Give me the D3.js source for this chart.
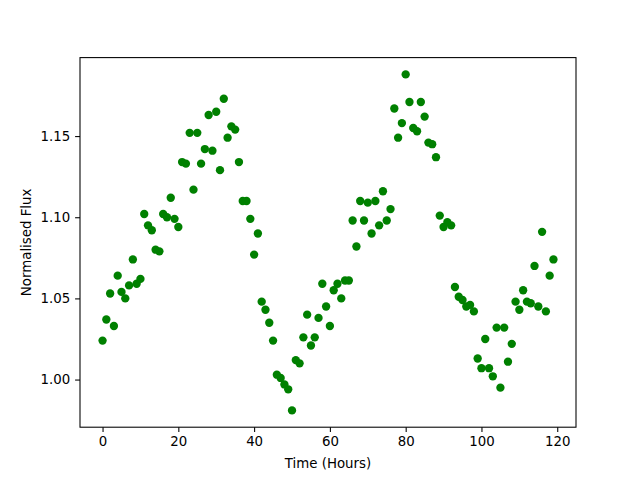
<!DOCTYPE html>
<html>
<head>
<meta charset="utf-8">
<script src="https://cdn.jsdelivr.net/npm/d3@7"></script>
<style>
body { margin: 0; background: #fff; }
svg { display: block; }
text { font-family: "DejaVu Sans", sans-serif; }
</style>
</head>
<body>
<svg id="chart" width="640" height="480"></svg>
<script>
const hours = d3.range(0, 120);
const flux = [
  1.024, 1.037, 1.053, 1.033, 1.064, 1.054, 1.050, 1.058, 1.074, 1.059,
  1.062, 1.102, 1.095, 1.092, 1.080, 1.079, 1.102, 1.100, 1.112, 1.099,
  1.094, 1.134, 1.133, 1.152, 1.117, 1.152, 1.133, 1.142, 1.163, 1.141,
  1.165, 1.129, 1.173, 1.149, 1.156, 1.154, 1.134, 1.110, 1.110, 1.099,
  1.077, 1.090, 1.048, 1.043, 1.035, 1.024, 1.003, 1.001, 0.997, 0.994,
  0.981, 1.012, 1.010, 1.026, 1.040, 1.021, 1.026, 1.038, 1.059, 1.045,
  1.033, 1.055, 1.059, 1.050, 1.061, 1.061, 1.098, 1.082, 1.110, 1.098,
  1.109, 1.090, 1.110, 1.095, 1.116, 1.098, 1.105, 1.167, 1.149, 1.158,
  1.188, 1.171, 1.155, 1.153, 1.171, 1.162, 1.146, 1.145, 1.137, 1.101,
  1.094, 1.097, 1.095, 1.057, 1.051, 1.049, 1.045, 1.046, 1.042, 1.013,
  1.007, 1.025, 1.007, 1.002, 1.032, 0.995, 1.032, 1.011, 1.022, 1.048,
  1.043, 1.055, 1.048, 1.047, 1.070, 1.045, 1.091, 1.042, 1.064, 1.074
];
const xTicks = [0, 20, 40, 60, 80, 100, 120];
const yTicks = [1.00, 1.05, 1.10, 1.15];
const xLabel = "Time (Hours)";
const yLabel = "Normalised Flux";

(function () {
const svg = d3.select("#chart");
const pL = 80, pR = 576, pT = 57.6, pB = 427.2;

const xMin = d3.min(hours), xMax = d3.max(hours);
const xPad = (xMax - xMin) * 0.05;
const yMin = d3.min(flux), yMax = d3.max(flux);
const yPad = (yMax - yMin) * 0.05;

const x = d3.scaleLinear().domain([xMin - xPad, xMax + xPad]).range([pL, pR]);
const y = d3.scaleLinear().domain([yMin - yPad, yMax + yPad]).range([pB, pT]);

const g = svg.append("g");

g.selectAll("circle").data(hours).enter().append("circle")
  .attr("cx", d => x(d))
  .attr("cy", (d, i) => y(flux[i]))
  .attr("r", 4.17)
  .attr("fill", "#008000");

const xAxis = d3.axisBottom(x).tickValues(xTicks).tickFormat(d3.format("d")).tickSize(4.9).tickPadding(4.9);
const yAxis = d3.axisLeft(y).tickValues(yTicks).tickFormat(d3.format(".2f")).tickSize(4.9).tickPadding(4.9);

const gx = svg.append("g").attr("transform", `translate(0,${pB})`).call(xAxis);
const gy = svg.append("g").attr("transform", `translate(${pL},0)`).call(yAxis);
[gx, gy].forEach(a => {
  a.select(".domain").remove();
  a.selectAll(".tick line").attr("stroke", "#000").attr("stroke-width", 1.07);
  a.selectAll(".tick text").attr("font-size", "13.33px").attr("fill", "#000")
    .attr("font-family", "'DejaVu Sans', sans-serif");
});

svg.append("rect")
  .attr("x", pL).attr("y", pT)
  .attr("width", pR - pL).attr("height", pB - pT)
  .attr("fill", "none").attr("stroke", "#000").attr("stroke-width", 1.07);

svg.append("text")
  .attr("x", (pL + pR) / 2).attr("y", 468)
  .attr("text-anchor", "middle").attr("font-size", "13.33px")
  .text(xLabel);

svg.append("text")
  .attr("transform", `translate(31,${(pT + pB) / 2}) rotate(-90)`)
  .attr("text-anchor", "middle").attr("font-size", "13.33px")
  .text(yLabel);
})();
</script>
</body>
</html>
